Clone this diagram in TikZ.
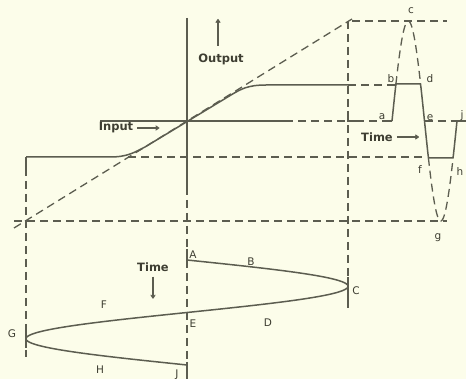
\documentclass[tikz,border=0pt]{standalone}
\usepackage{fontspec}
\setmainfont{DejaVu Sans}
\usepackage{tikz}
\usetikzlibrary{arrows.meta}
\usepackage{xcolor}
\definecolor{paper}{RGB}{252,253,234}
\definecolor{ink}{RGB}{92,93,80}
\definecolor{txt}{RGB}{62,62,50}

\begin{document}
\begin{tikzpicture}[x=1pt,y=-1pt,
  line/.style={ink,line width=1.5pt},
  dline/.style={ink,line width=1.3pt,dash pattern=on 8pt off 5pt},
  lbl/.style={txt,font=\bfseries\fontsize{11.5}{13}\selectfont,inner sep=0pt},
  ltr/.style={txt,font=\fontsize{10.5}{12}\selectfont,inner sep=0pt},
  >={To[length=4pt,width=5pt]}]
\fill[paper] (0,0) rectangle (466,379);
\useasboundingbox (0,0) rectangle (466,379);

% Axes of the characteristic
\coordinate (O) at (187,121);
\draw[line] (187,18) -- (O) -- (187,187);
\draw[line] (100,121) -- (O) -- (285,121);
\draw[dline] (285,121) -- (348,121);
\draw[line] (348,111) -- (348,121) -- (356,121);
\draw[dline] (356,121) -- (386,121);

% Linear characteristic and limits
\draw[dline] (14,228) -- (O) -- (352,19);
\draw[line] (26,157) -- (110,157) .. controls (128,157) and (135,152) .. (145,147)
  -- (231,95) .. controls (241,89) and (248,85) .. (266,85) -- (348,85);
\draw[dline] (348,85) -- (397,85);
\draw[dline] (128,157) -- (426,157);
\draw[dline] (352,21) -- (447,21);
\draw[dline] (14,221) -- (447,221);

% Projection lines
\draw[line] (26,157) -- (26,168);
\draw[dline] (26,168) -- (26,357);
\draw[dline] (348,21) -- (348,277);
\draw[dline] (187,187) -- (187,249);
\draw[dline] (187,260) -- (187,362);

% Input wave (time downwards)
\draw[line] (187,249) -- (187,260);
\draw[line] (348,277) -- (348,308);
\draw[line] (26,328) -- (26,348);
\draw[line] (187,362) -- (187,379);
\draw[line,domain=260:365,samples=150,smooth,variable=\t]
  plot ({187+161*sin(3.42857*(\t-260))},\t);

% Output wave (time to the right)
\draw[line] (386,121) -- (392,121);
\draw[line,domain=392:457,samples=131,variable=\t]
  plot (\t,{121-max(-37,min(37,100*sin(5.53846*(\t-392))))});
\draw[line] (457,121) -- (466,121);
\draw[dline] (424.5,121) -- (457,121);
\draw[dline,domain=395.9:420.1,samples=40,smooth,variable=\t]
  plot (\t,{121-100*sin(5.53846*(\t-392))});
\draw[dline,domain=428.4:452.6,samples=40,smooth,variable=\t]
  plot (\t,{121-100*sin(5.53846*(\t-392))});

% Labels
\node[lbl] (out) at (221,59) {Output};
\draw[line,line width=1.1pt,->] (218,46) -- (218,19);
\node[lbl] (inp) at (116,128) {Input};
\draw[line,line width=1.1pt,->] ([xshift=4pt]inp.east) -- ++(22,0);
\node[lbl] (tout) at (377,137) {Time};
\draw[line,line width=1.1pt,->] ([xshift=4pt]tout.east) -- ++(22,0);
\node[lbl] (tin) at (153,267) {Time};
\draw[line,line width=1.1pt,->] ([yshift=-5pt]tin.south) -- ++(0,22);

% Points on the waves
\node[ltr] (pa) at (382,117) {a};
\node[ltr] (pb) at (391,79) {b};
\node[ltr] (pc) at (411,11) {c};
\node[ltr] (pd) at (430,79) {d};
\node[ltr] (pe) at (430,118) {e};
\node[ltr] (pf) at (420,170) {f};
\node[ltr] (pg) at (438,238) {g};
\node[ltr] (ph) at (460,172) {h};
\node[ltr] (pj) at (462,116) {j};
\node[ltr] (qA) at (193,255) {A};
\node[ltr] (qB) at (251,262) {B};
\node[ltr] (qC) at (356,291) {C};
\node[ltr] (qD) at (268,323) {D};
\node[ltr] (qE) at (193,324) {E};
\node[ltr] (qF) at (104,305) {F};
\node[ltr] (qG) at (12,334) {G};
\node[ltr] (qH) at (100,370) {H};
\node[ltr] (qJ) at (177,375) {J};
\end{tikzpicture}
\end{document}
